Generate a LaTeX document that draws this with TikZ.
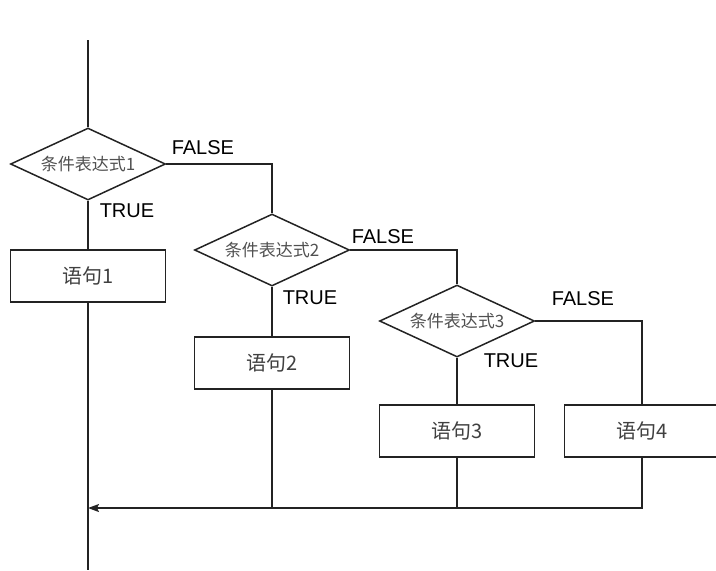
\documentclass[tikz,border=0pt]{standalone}
\usepackage{fontspec}
\setmainfont{Liberation Sans}
\newfontfamily\cjk{Noto Sans CJK SC}
\usetikzlibrary{arrows.meta, shapes.geometric}
\definecolor{linegray}{RGB}{35,35,35}
\definecolor{textgray}{RGB}{80,80,80}

\begin{document}
\begin{tikzpicture}[x=0.5pt, y=-0.5pt, line width=0.75pt, draw=linegray,
    cond/.style={diamond, aspect=2.15, draw=linegray, inner sep=0pt, minimum width=77.5pt, minimum height=36pt,
        font=\cjk\fontsize{8.5}{10}\selectfont, text=textgray},
    stmt/.style={rectangle, draw=linegray, inner sep=0pt, minimum width=77.5pt, minimum height=26pt,
        font=\cjk\fontsize{10}{12}\selectfont, text=textgray!80!black},
    tag/.style={anchor=west, inner sep=0pt, font=\fontsize{10}{12}\selectfont}]
    \useasboundingbox (0,0) rectangle (716,570);

    % Conditions and statements
    \node[cond] (d1) at (88,164) {条件表达式1};
    \node[cond] (d2) at (272,250) {条件表达式2};
    \node[cond] (d3) at (457,321) {条件表达式3};
    \node[stmt] (b1) at (88,276) {语句1};
    \node[stmt] (b2) at (272,363) {语句2};
    \node[stmt] (b3) at (457,431) {语句3};
    \node[stmt] (b4) at (642,431) {语句4};

    % Main line
    \coordinate (top) at (88,40);
    \coordinate (end) at (88,570);
    \coordinate (merge) at (88,508);
    \draw (top) -- (d1.north);
    \draw (d1.south) -- (b1.north);
    \draw (b1.south) -- (end);

    % FALSE branches
    \draw (d1.east) -| (d2.north);
    \draw (d2.east) -| (d3.north);
    \draw (d3.east) -| (b4.north);
    \draw (d2.south) -- (b2.north);
    \draw (d3.south) -- (b3.north);

    % Back to the main line
    \draw (b2.south) -- (b2.south |- merge);
    \draw (b3.south) -- (b3.south |- merge);
    \draw[-{Stealth[length=5.5pt, width=4pt, inset=1pt]}] (b4.south) |- (merge);

    % Labels
    \node[tag] (f1) at (171,148) {FALSE};
    \node[tag] (t1) at (99,211) {TRUE};
    \node[tag] (f2) at (351,237) {FALSE};
    \node[tag] (t2) at (282,298) {TRUE};
    \node[tag] (f3) at (551,299) {FALSE};
    \node[tag] (t3) at (483,361) {TRUE};
\end{tikzpicture}
\end{document}
